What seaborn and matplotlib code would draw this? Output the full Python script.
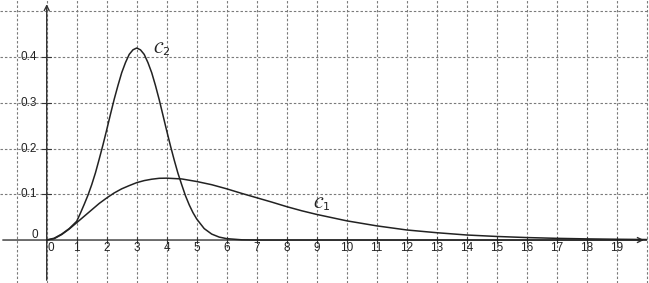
import matplotlib
matplotlib.use("Agg")
import matplotlib.pyplot as plt
import seaborn as sns
import pandas as pd

# C1 readings
c1_x = [0, 0.25, 0.5, 0.75, 1, 1.25, 1.5, 1.75, 2, 2.25, 2.5, 2.75, 3, 3.25, 3.5, 3.75, 4,
        4.5, 5, 5.5, 6, 6.5, 7, 7.5, 8, 8.5, 9, 9.5, 10, 11, 12, 13, 14, 15, 16, 17, 18, 19, 20]
c1_y = [0, 0.003, 0.012, 0.024, 0.038, 0.052, 0.066, 0.080, 0.092, 0.103, 0.112, 0.119, 0.1255,
        0.130, 0.133, 0.135, 0.1353, 0.1336, 0.128, 0.121, 0.112, 0.102, 0.0925, 0.083, 0.073,
        0.064, 0.056, 0.049, 0.042, 0.031, 0.022, 0.016, 0.011, 0.0078, 0.0054, 0.0037, 0.0025,
        0.0017, 0.0011]

# C2 readings
c2_x = [0, 0.25, 0.5, 0.75, 1, 1.125, 1.25, 1.375, 1.5, 1.625, 1.75, 1.875, 2, 2.125, 2.25,
        2.375, 2.5, 2.625, 2.75, 2.875, 3, 3.125, 3.25, 3.375, 3.5, 3.625, 3.75, 3.875, 4,
        4.125, 4.25, 4.375, 4.5, 4.625, 4.75, 4.875, 5, 5.25, 5.5, 5.75, 6, 6.5, 7, 8, 10, 14, 20]
c2_y = [0, 0.004, 0.013, 0.025, 0.041, 0.059, 0.078, 0.098, 0.121, 0.147, 0.177, 0.208, 0.241,
        0.275, 0.308, 0.338, 0.366, 0.388, 0.406, 0.416, 0.420, 0.416, 0.406, 0.388, 0.366,
        0.338, 0.307, 0.273, 0.239, 0.206, 0.175, 0.146, 0.121, 0.097, 0.077, 0.060, 0.046,
        0.025, 0.013, 0.0064, 0.003, 0.0005, 0.0, 0.0, 0.0, 0.0, 0.0]

x_ticks = list(range(0, 20))
y_ticks = [0.1, 0.2, 0.3, 0.4]
y_tick_labels = ["0.1", "0.2", "0.3", "0.4"]
curve_labels = [r"$\mathcal{C}_1$", r"$\mathcal{C}_2$"]

sns.set_style("white")
plt.rcParams['font.family'] = ['Liberation Sans', 'DejaVu Sans']

fig = plt.figure(figsize=(6.49, 2.83), dpi=100)
ax = fig.add_axes([0, 0, 1, 1])

xmin, xmax = -1.557, 20.077
ymin, ymax = -0.094, 0.525
ax.set_xlim(xmin, xmax)
ax.set_ylim(ymin, ymax)
for s in ax.spines.values():
    s.set_visible(False)

grid_kw = dict(color="#7a7a7a", lw=0.8, ls=(0, (2.2, 1.8)), zorder=0)
for gx in range(-1, 21):
    ax.axvline(gx, **grid_kw)
for gy in [-0.1, 0.1, 0.2, 0.3, 0.4, 0.5]:
    ax.axhline(gy, **grid_kw)

# axes with arrows
ax.annotate("", xy=(20.0, 0), xytext=(xmin, 0),
            arrowprops=dict(arrowstyle="->", color="#333333", lw=1.0, mutation_scale=9))
ax.annotate("", xy=(0, 0.522), xytext=(0, ymin),
            arrowprops=dict(arrowstyle="->", color="#333333", lw=1.0, mutation_scale=9))

df1 = pd.DataFrame({"x": c1_x, "y": c1_y})
df2 = pd.DataFrame({"x": c2_x, "y": c2_y})
sns.lineplot(data=df1, x="x", y="y", ax=ax, color="#222222", lw=1.1, sort=False, zorder=3)
sns.lineplot(data=df2, x="x", y="y", ax=ax, color="#222222", lw=1.1, sort=False, zorder=3)
ax.set_xlabel("")
ax.set_ylabel("")
ax.set_xticks([])
ax.set_yticks([])
ax.set_xlim(xmin, xmax)
ax.set_ylim(ymin, ymax)

# tick marks and labels
for t in x_ticks:
    if t > 0:
        ax.plot([t, t], [-0.006, 0.006], color="#333333", lw=0.8)
    ax.text(t + (0.15 if t == 0 else 0), -0.018, str(t), ha="center", va="center",
            fontsize=8.5, color="#222222")
for t, lab in zip(y_ticks, y_tick_labels):
    ax.plot([-0.15, 0.15], [t, t], color="#333333", lw=0.8)
    ax.text(-0.33, t, lab, ha="right", va="center", fontsize=8.5, color="#222222")
ax.text(-0.3, 0.011, "0", ha="right", va="center", fontsize=8.5, color="#222222")

ax.text(9.18, 0.078, curve_labels[0], ha="center", va="center", fontsize=11.5, color="#222222")
ax.text(3.84, 0.418, curve_labels[1], ha="center", va="center", fontsize=11.5, color="#222222")

fig.savefig("out.png", dpi=100)
